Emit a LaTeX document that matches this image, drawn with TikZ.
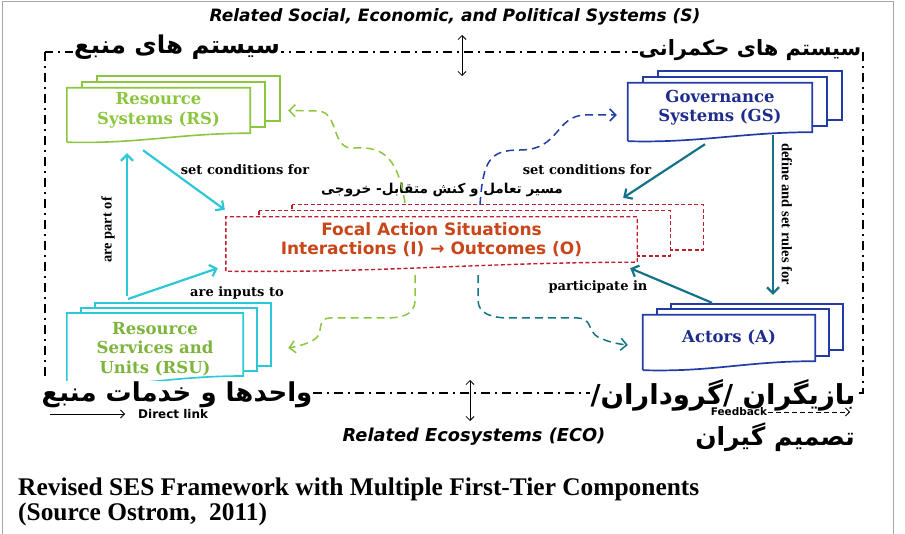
\documentclass[tikz,border=0pt]{standalone}
\usepackage{fontspec}
\setmainfont{DejaVu Serif}
\newfontfamily\sansfont{DejaVu Sans}
\newfontfamily\capfont{Liberation Serif}
\newfontfamily\fafont[Script=Arabic]{DejaVu Sans}
\TeXXeTstate=1
\usetikzlibrary{arrows.meta,calc,backgrounds,positioning}

\definecolor{rsgreen}{RGB}{140,198,63}
\definecolor{rsutext}{RGB}{125,180,60}
\definecolor{rucyan}{RGB}{45,200,215}
\definecolor{gsblue}{RGB}{35,60,165}
\definecolor{gstext}{RGB}{30,45,140}
\definecolor{arteal}{RGB}{20,115,135}
\definecolor{focred}{RGB}{190,30,45}
\definecolor{foctext}{RGB}{200,70,25}

% three sheets behind a node: node, colour, shift, style, wave
\newcommand\sheets[5]{%
  \begin{pgfonlayer}{background}
  \foreach \k in {2,1}
    \filldraw[fill=white,draw=#2,#4] ($(#1.north west)+\k*(#3)$) rectangle ($(#1.south east)+\k*(#3)$);
  \filldraw[fill=white,draw=#2,#4] ($(#1.south west)+(0,9)$) -- (#1.north west) -- (#1.north east)
    -- (#1.south east) .. controls +(-#5,0) and +(#5,2) .. ($(#1.south west)+(0,9)$);
  \end{pgfonlayer}}

\begin{document}
\begin{tikzpicture}[x=1pt,y=-1pt,
    S/.style = {font=\bfseries\fontsize{16.5}{19.5}\selectfont, align=center,% text of the sheet stacks
                inner sep=0pt, minimum width=#1},
    L/.style = {font=\bfseries\fontsize{13}{15}\selectfont, inner sep=1pt},% arrow labels
    R/.style = {font=\capfont\bfseries\fontsize{14.5}{16}\selectfont, inner sep=1pt},% turned labels
    F/.style = {font=\fafont\bfseries\fontsize{#1}{30}\selectfont, inner sep=1pt},% persian titles
    T/.style = {font=\sansfont\bfseries\itshape\fontsize{#1}{18}\selectfont},% outer systems
    K/.style = {font=\sansfont\bfseries\fontsize{#1}{12}\selectfont, inner sep=1pt},% legend
    A/.style = {line width=2.2pt, -{Straight Barb[length=6pt,width=12pt]}},% direct links
    D/.style = {line width=1.5pt, dash pattern=on 8pt off 5pt,
                -{Straight Barb[length=6pt,width=12pt]}},% feedback
    FR/.style = {line width=1.6pt, dash pattern=on 9pt off 5pt on 2pt off 5pt},% frame
    E/.style = {line width=0.8pt, {Straight Barb[length=4pt,width=8pt]}-{Straight Barb[length=4pt,width=8pt]}},
                        ]
\useasboundingbox (0,0) rectangle (905,534);
\draw[gray!70, line width=1pt] (2,534) -- (2,2) -- (893,2) -- (893,534);
\draw[FR] (45,52) rectangle (863,393);

\node[T=17] (s) at (455,17) {Related Social, Economic, and Political Systems (S)};
\node[T=17.8] (eco) at (474,437) {Related Ecosystems (ECO)};
\coordinate (s1) at (462,35);  \coordinate (s2) at (462,76);
\coordinate (e1) at (470,380); \coordinate (e2) at (470,421);
\draw[E] (s1) -- (s2);
\draw[E] (e1) -- (e2);

% persian titles
\node[F=24.5, fill=white] (fa-rs)  at (177,47)  {\beginR سیستم های منبع\endR};
\node[F=21, fill=white]   (fa-gs)  at (750,50)  {\beginR سیستم های حکمرانی\endR};
\node[F=26, fill=white]   (fa-rsu) at (177,395) {\beginR واحدها و خدمات منبع\endR};
\node[F=27.5, fill=white] (fa-a)   at (723,395) {\beginR بازیگران /گروداران/\endR};
\node[F=25] (fa-a2) at (775,437) {\beginR تصمیم گیران\endR};
\node[F=13.6] (fa-foc) at (442,190) {\beginR مسیر تعامل و کنش متقابل- خروجی\endR};

% first-tier components
\node[S=183pt, minimum height=45pt, text=rsgreen] (rs) at (158.5,110.5) {Resource\\Systems (RS)};
\node[S=184pt, minimum height=49pt, text=gstext] (gs) at (720,107.5) {Governance\\Systems (GS)};
\node[S=176pt, minimum height=45pt, text=rsutext] (rsu) at (155,344.5)
     {\mbox{}\\[1.5pt]Resource\\Services and\\Units (RSU)};
\node[S=172pt, minimum height=46pt, text=gstext] (act) at (729,338) {Actors (A)};
\node[S=411pt, minimum height=45pt, text=foctext, font=\sansfont\bfseries\fontsize{17}{18.5}\selectfont]
     (foc) at (431.5,239.5) {Focal Action Situations\\Interactions (I) → Outcomes (O)};
\sheets{rs}{rsgreen}{15,-6}{line width=1.6pt}{70}
\sheets{gs}{gsblue}{15,-6}{line width=1.7pt}{70}
\sheets{rsu}{rucyan}{14,-5}{line width=1.6pt}{70}
\sheets{act}{gsblue}{14,-5.5}{line width=1.7pt}{70}
\sheets{foc}{focred}{33,-6}{line width=1.4pt, dash pattern=on 4pt off 2.5pt}{150}

% direct links
\draw[A, rucyan] ([xshift=-28pt,yshift=17pt]rsu.north) -- ([xshift=-31.5pt,yshift=-20pt]rs.south);
\draw[A, rucyan] ([xshift=-15.5pt,yshift=-17pt]rs.south) -- ([xshift=-1pt,yshift=7pt]foc.north west);
\draw[A, rucyan] ([xshift=-27pt,yshift=14pt]rsu.north) -- ([xshift=-8pt,yshift=-6pt]foc.south west);
\draw[A, arteal] ([xshift=-15pt,yshift=-12pt]gs.south) -- ([xshift=-14pt,yshift=19pt]foc.north east);
\draw[A, arteal] ([xshift=53pt,yshift=-3pt]gs.south) -- ([xshift=44pt,yshift=20pt]act.north);
\draw[A, arteal] ([xshift=-17pt,yshift=12pt]act.north) -- ([xshift=-7pt,yshift=-6pt]foc.south east);

\node[R, rotate=90] (l-part) at (108,230) {are part of};
\node[L] (l-rs) at (245,170) {set conditions for};
\node[L] (l-in) at (237,293) {are inputs to};
\node[L] (l-gs) at (587,170) {set conditions for};
\node[R, rotate=-90] (l-def) at (787,214) {define and set rules for};
\node[L] (l-part2) at (598,287) {participate in};

% feedback
\draw[D, rsgreen] ([xshift=-26.5pt,yshift=14pt]foc.north) .. controls (398,160) and (385,146) .. (355,148)
   .. controls (330,151) and (340,112) .. (318,111) -- ([xshift=38pt]rs.east);
\draw[D, gsblue] ([xshift=48.5pt,yshift=12pt]foc.north) .. controls (483,160) and (490,150) .. (520,150)
   .. controls (560,150) and (555,116) .. (585,115) -- ([xshift=-11pt,yshift=-7.5pt]gs.west);
\draw[D, rsgreen] ([xshift=-16.5pt,yshift=-13pt]foc.south) -- (415,300) .. controls (415,316) and (400,318) .. (385,318)
   -- (330,318) .. controls (318,318) and (322,330) .. (318,336)
   .. controls (314,342) and (300,346) .. ([xshift=45pt,yshift=-3.5pt]rsu.east);
\draw[D, arteal] ([xshift=46.5pt,yshift=-13pt]foc.south) -- (478,300) .. controls (478,314) and (492,318) .. (510,318)
   -- (578,318) .. controls (592,318) and (588,332) .. (598,337)
   .. controls (608,342) and (618,344) .. ([xshift=-15pt,yshift=-7pt]act.west);

% legend
\coordinate (dl) at (50,414);
\node[K=12, anchor=west] (dl-t) at (137,414) {Direct link};
\draw[line width=0.8pt, -{Straight Barb[length=4pt,width=8pt]}] (dl) -- ([xshift=-12pt]dl-t.west);
\node[K=10.5] (fb) at (739,412) {Feedback};
\coordinate (fb-e) at (850,412);
\draw[line width=0.8pt, dash pattern=on 5pt off 3pt, -{Straight Barb[length=4pt,width=8pt]}] (fb.east) -- (fb-e);

% caption
\node[anchor=west, font=\capfont\bfseries\fontsize{25.4}{27}\selectfont, inner sep=0pt] (cap1) at (18,489)
     {Revised SES Framework with Multiple First-Tier Components};
\node[anchor=west, font=\capfont\bfseries\fontsize{25.4}{27}\selectfont, inner sep=0pt] (cap2) at (18,514)
     {(Source Ostrom,\ \ 2011)};
\end{tikzpicture}
\end{document}
